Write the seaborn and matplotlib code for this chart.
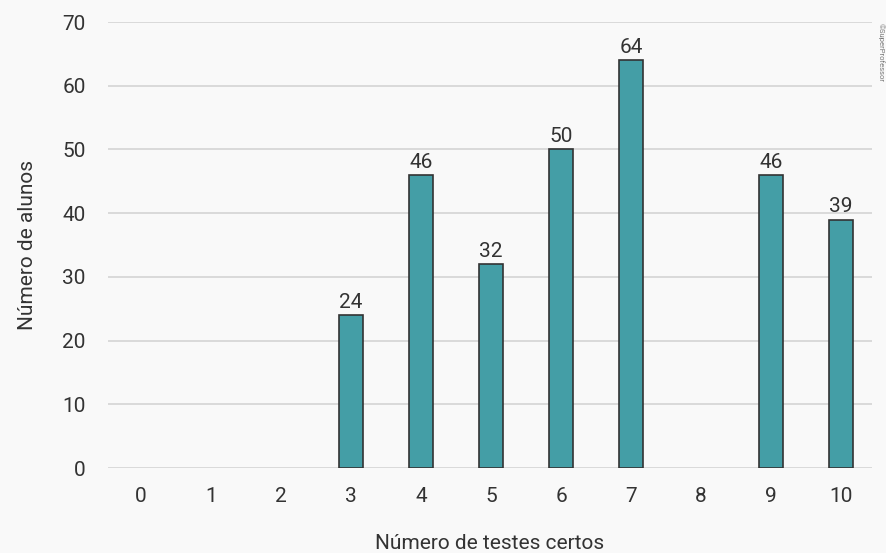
import matplotlib
matplotlib.use("Agg")
import matplotlib.pyplot as plt
import seaborn as sns
import pandas as pd

categories = ["0", "1", "2", "3", "4", "5", "6", "7", "8", "9", "10"]
values = [0, 0, 0, 24, 46, 32, 50, 64, 0, 46, 39]
yticks = [0, 10, 20, 30, 40, 50, 60, 70]

sns.set_theme(style="white")
plt.rcParams['font.family'] = ['Roboto', 'DejaVu Sans']

df = pd.DataFrame({"acertos": categories, "alunos": values})

fig = plt.figure(figsize=(8.86, 5.53), dpi=100, facecolor="#f9f9f9")
ax = fig.add_axes([0.1219, 0.1537, 0.8623, 0.8065])
ax.set_facecolor("#f9f9f9")

sns.barplot(data=df, x="acertos", y="alunos", order=categories, color="#449ea6",
            saturation=1, width=0.34, edgecolor="#333333", linewidth=1.2, ax=ax, zorder=3)

for p in ax.patches:
    if p.get_height() == 0:
        p.set_linewidth(0)

for i, v in enumerate(values):
    if v > 0:
        ax.text(i, v + 0.5, str(v), ha="center", va="bottom", fontsize=15, color="#333333")

ax.set_ylim(0, 70)
ax.set_xlim(-0.47, 10.44)
ax.set_yticks(yticks)
ax.yaxis.grid(True, color="#d4d4d4", linewidth=1.2, zorder=0)
ax.set_axisbelow(True)
for s in ax.spines.values():
    s.set_visible(False)
ax.tick_params(axis="both", length=0, labelsize=15, labelcolor="#333333")
ax.tick_params(axis="y", pad=16)
ax.tick_params(axis="x", pad=14)
ax.set_xlabel("Número de testes certos", fontsize=15, color="#333333", labelpad=20)
ax.set_ylabel("Número de alunos", fontsize=15, color="#333333", labelpad=18)

fig.text(0.994, 0.905, "©SuperProfessor", rotation=270, fontsize=5.5, color="#777777",
         ha="center", va="center")

fig.savefig("out.png", dpi=100, facecolor=fig.get_facecolor())
